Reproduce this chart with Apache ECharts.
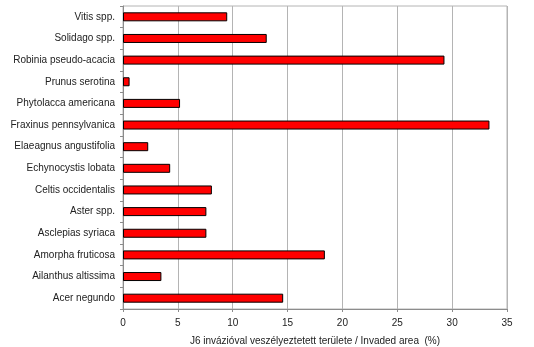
<!DOCTYPE html>
<html>
<head>
<meta charset="utf-8">
<script src="https://cdn.jsdelivr.net/npm/echarts@6/dist/echarts.min.js"></script>
<style>
html,body{margin:0;padding:0;background:#ffffff;}
#c{width:534px;height:347px;}
</style>
</head>
<body>
<div id="c"></div>
<script>
// Categories from bottom to top (ECharts category y-axis starts at bottom)
const categories = [
  "Acer negundo",
  "Ailanthus altissima",
  "Amorpha fruticosa",
  "Asclepias syriaca",
  "Aster spp.",
  "Celtis occidentalis",
  "Echynocystis lobata",
  "Elaeagnus angustifolia",
  "Fraxinus pennsylvanica",
  "Phytolacca americana",
  "Prunus serotina",
  "Robinia pseudo-acacia",
  "Solidago spp.",
  "Vitis spp."
];
const invadedArea = [14.6, 3.5, 18.4, 7.6, 7.6, 8.1, 4.3, 2.3, 33.4, 5.2, 0.6, 29.3, 13.1, 9.5];
const xTicks = [0, 5, 10, 15, 20, 25, 30, 35];
const xAxisName = "J6 invázióval veszélyeztetett területe / Invaded area  (%)";

const chart = echarts.init(document.getElementById('c'), null, {renderer: 'canvas'});
chart.setOption({
  animation: false,
  backgroundColor: '#ffffff',
  textStyle: {fontFamily: 'Liberation Sans, Arial, sans-serif'},
  grid: {
    left: 123, right: 27, top: 6, bottom: 38,
    containLabel: false,
    outerBoundsMode: 'none',
    show: true, borderColor: '#b4b4b4', borderWidth: 1, backgroundColor: 'transparent'
  },
  xAxis: {
    type: 'value',
    min: xTicks[0],
    max: xTicks[xTicks.length - 1],
    interval: 5,
    name: xAxisName,
    nameLocation: 'middle',
    nameGap: 27,
    nameTextStyle: {color: '#222', fontSize: 10, fontFamily: 'Liberation Sans, Arial, sans-serif'},
    axisLine: {show: true, lineStyle: {color: '#8c8c8c', width: 1}},
    axisTick: {show: true, length: 3, inside: false, lineStyle: {color: '#8c8c8c'}},
    axisLabel: {color: '#222', fontSize: 10, margin: 9},
    splitLine: {show: true, lineStyle: {color: '#b4b4b4', width: 1}}
  },
  yAxis: {
    type: 'category',
    data: categories,
    axisLine: {show: true, lineStyle: {color: '#8c8c8c', width: 1}},
    axisTick: {show: true, length: 3, lineStyle: {color: '#8c8c8c'}},
    axisLabel: {color: '#222', fontSize: 10, margin: 8},
    splitLine: {show: false}
  },
  series: [{
    type: 'bar',
    data: invadedArea,
    barWidth: 9,
    itemStyle: {color: '#ff0000', borderColor: '#000000', borderWidth: 1}
  }]
});
</script>
</body>
</html>
